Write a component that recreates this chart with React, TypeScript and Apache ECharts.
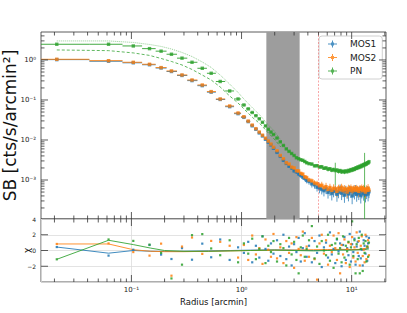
import React, { useEffect, useRef } from 'react';
import * as echarts from 'echarts';

// ---------- data ----------
const radius = [0.021, 0.062, 0.104, 0.146, 0.186, 0.231, 0.288, 0.355, 0.44, 0.53, 0.64, 0.78, 0.93,
  1.05, 1.15, 1.25, 1.35, 1.45, 1.55, 1.65, 1.75, 1.85, 1.95,
  2.1, 2.25, 2.4, 2.55, 2.7, 2.85, 3.0, 3.15, 3.3, 3.45, 3.6, 3.75, 3.9,
  4.1, 4.35, 4.6, 4.85, 5.1, 5.35, 5.6, 5.85, 6.1, 6.35, 6.6, 6.85, 7.1, 7.35, 7.6, 7.85, 8.1, 8.35, 8.6, 8.85,
  9.1, 9.35, 9.6, 9.85, 10.1, 10.35, 10.6, 10.85, 11.1, 11.35, 11.6, 11.85, 12.1, 12.35, 12.6, 12.85, 13.1, 13.35,
  13.6, 13.85, 14.1, 14.35];

const sbMOS1 = [1.02, 0.93, 0.85, 0.76, 0.63, 0.515, 0.41, 0.305, 0.228, 0.157, 0.103, 0.068, 0.0455,
  0.0368, 0.0288, 0.0226, 0.0185, 0.0150, 0.0126, 0.0104, 0.0088, 0.0075, 0.0062,
  0.0049, 0.0039, 0.0031, 0.0026, 0.0022, 0.0020, 0.0017, 0.0016, 0.00142, 0.00130, 0.00118, 0.00110, 0.00098,
  0.00092, 0.00080, 0.00076, 0.00066, 0.00063, 0.00058, 0.00054, 0.00060, 0.00049, 0.00055, 0.00046, 0.00052,
  0.00057, 0.00044, 0.00050, 0.00061, 0.00047, 0.00053, 0.00042, 0.00056, 0.00049, 0.00045, 0.00058, 0.00051,
  0.00040, 0.00054, 0.00048, 0.00059, 0.00044, 0.00052, 0.00047, 0.00055, 0.00041, 0.00050, 0.00056, 0.00046,
  0.00053, 0.00043, 0.00049, 0.00055, 0.00045, 0.00051];

const sbMOS2 = [1.04, 0.96, 0.876, 0.781, 0.645, 0.531, 0.422, 0.316, 0.237, 0.162, 0.106, 0.0708, 0.0473,
  0.0382, 0.0297, 0.0236, 0.0192, 0.0158, 0.0132, 0.0111, 0.0094, 0.0079, 0.0066,
  0.0054, 0.0041, 0.0034, 0.0027, 0.0025, 0.0021, 0.0020, 0.0017, 0.00168, 0.00146, 0.00140, 0.00120, 0.00115,
  0.00100, 0.00095, 0.00084, 0.00081, 0.00072, 0.00074, 0.00064, 0.00068, 0.00058, 0.00065, 0.00055, 0.00062,
  0.00060, 0.00052, 0.00063, 0.00057, 0.00066, 0.00054, 0.00060, 0.00058, 0.00050, 0.00062, 0.00056, 0.00064,
  0.00053, 0.00059, 0.00061, 0.00055, 0.00063, 0.00057, 0.00052, 0.00060, 0.00058, 0.00064, 0.00054, 0.00061,
  0.00057, 0.00050, 0.00059, 0.00055, 0.00062, 0.00056];

const sbPN = [2.47, 2.47, 2.24, 1.92, 1.66, 1.39, 1.11, 0.876, 0.62, 0.465, 0.29, 0.168, 0.106,
  0.075, 0.060, 0.0487, 0.0405, 0.0339, 0.0277, 0.0225, 0.0185, 0.0158, 0.0137,
  0.0112, 0.0090, 0.0073, 0.0060, 0.0052, 0.0046, 0.0041, 0.0036, 0.0034, 0.0032, 0.0031, 0.0029, 0.0027,
  0.00256, 0.00250, 0.00226, 0.00228, 0.00212, 0.00214, 0.00196, 0.00200, 0.00186, 0.00191, 0.00176, 0.00183,
  0.00172, 0.00178, 0.00165, 0.00172, 0.00160, 0.00166, 0.00159, 0.00168, 0.00162, 0.00174, 0.00169, 0.00182,
  0.00176, 0.00190, 0.00184, 0.00199, 0.00195, 0.00210, 0.00205, 0.00220, 0.00214, 0.00232, 0.00226, 0.00243,
  0.00238, 0.00255, 0.00250, 0.00270, 0.00268, 0.00285];

// relative 1-sigma errors
const errMOS1 = [0.02, 0.02, 0.02, 0.02, 0.02, 0.02, 0.02, 0.02, 0.02, 0.02, 0.02, 0.02, 0.02,
  0.03, 0.03, 0.035, 0.035, 0.04, 0.04, 0.045, 0.05, 0.05, 0.055,
  0.06, 0.07, 0.08, 0.08, 0.09, 0.1, 0.1, 0.11, 0.12, 0.13, 0.14, 0.15, 0.16,
  0.17, 0.19, 0.2, 0.22, 0.26, 0.25, 0.28, 0.26, 0.3, 0.27, 0.33, 0.29, 0.27, 0.35, 0.3, 0.27, 0.33, 0.3, 0.36, 0.28,
  0.31, 0.35, 0.27, 0.3, 0.38, 0.29, 0.32, 0.27, 0.35, 0.3, 0.33, 0.28, 0.37, 0.31, 0.27, 0.34, 0.3, 0.36, 0.32,
  0.29, 0.35, 0.31];
const errMOS2 = [0.02, 0.02, 0.02, 0.02, 0.02, 0.02, 0.02, 0.02, 0.02, 0.02, 0.02, 0.02, 0.02,
  0.025, 0.025, 0.03, 0.03, 0.03, 0.035, 0.035, 0.04, 0.04, 0.045,
  0.05, 0.05, 0.06, 0.06, 0.07, 0.07, 0.08, 0.08, 0.09, 0.1, 0.1, 0.11, 0.12,
  0.14, 0.15, 0.17, 0.18, 0.2, 0.22, 0.2, 0.25, 0.22, 0.24, 0.2, 0.26, 0.23, 0.28, 0.21, 0.25, 0.22, 0.27, 0.24,
  0.2, 0.28, 0.23, 0.26, 0.21, 0.27, 0.24, 0.22, 0.28, 0.2, 0.25, 0.29, 0.23, 0.26, 0.21, 0.27, 0.24, 0.22, 0.3,
  0.25, 0.23, 0.27, 0.24];
const errPN = [0.015, 0.015, 0.015, 0.015, 0.015, 0.015, 0.015, 0.015, 0.015, 0.015, 0.015, 0.015, 0.015,
  0.02, 0.02, 0.022, 0.024, 0.025, 0.027, 0.028, 0.03, 0.03, 0.032,
  0.04, 0.042, 0.045, 0.05, 0.05, 0.055, 0.06, 0.06, 0.065, 0.07, 0.07, 0.075, 0.08,
  0.08, 0.09, 0.08, 0.1, 0.09, 0.11, 0.09, 0.1, 0.12, 0.09, 0.11, 0.1, 0.57, 0.09, 0.12, 0.1, 0.11, 0.09, 0.12,
  0.1, 0.11, 0.09, 0.12, 0.1, 0.11, 0.09, 0.1, 0.12, 0.09, 0.11, 0.1, 0.12, 0.09, 0.11, 0.1, 0.12, 1.0, 0.1,
  0.11, 0.09, 0.1, 0.12];

// PN model envelope lines
const rModel = [0.021, 0.062, 0.104, 0.146, 0.186, 0.231, 0.288, 0.355, 0.44, 0.53, 0.64, 0.78, 0.93,
  1.05, 1.26, 1.48, 1.72, 1.98, 2.27];
const pnModelUpper = [2.99, 2.99, 2.74, 2.44, 2.18, 1.88, 1.54, 1.22, 0.89, 0.65, 0.42, 0.25, 0.154,
  0.106, 0.063, 0.041, 0.025, 0.0168, 0.0100];
const pnModelLower = [1.78, 1.71, 1.50, 1.30, 1.09, 0.917, 0.75, 0.579, 0.42, 0.316, 0.211, 0.126, 0.084,
  0.060, 0.0365, 0.025, 0.0158, 0.0106, 0.0067];

// residuals (chi)
const chiMOS1 = [0.44, -0.65, 0.1, 0.7, -0.52, -1.08, 0.3, -1.17, 0.87, -0.86, 1.4, -1.2, 0.4,
  -0.3, 1.1, -1.5, 0.6, -0.9, 1.8, 0.2, -1.3, 0.9, -0.4,
  1.3, -0.7, 2.0, -1.1, 0.5, -1.9, 0.8, -0.2, 1.6, -1.4, 0.3, 2.2, -0.8,
  0.6, -1.5, 1.2, -0.3, 1.9, -2.1, 0.4, 1.0, -0.9, 2.3, -0.5, 0.2, -1.6, 1.4, -0.1, 0.9, -2.0, 0.7, 1.7, -1.2,
  0.3, -0.6, 2.1, -1.4, 0.8, -0.2, 1.5, -1.8, 0.5, 1.1, -0.7, 2.4, -1.0, 0.1, -1.9, 1.3, 0.6, -0.4, 1.8, -1.3,
  0.9, 1.6];
const chiMOS2 = [0.83, 0.9, -0.2, -0.65, 0.87, -3.2, 0.5, 1.65, -0.43, 1.22, 1.1, 0.6, -0.9,
  0.7, -1.2, 1.9, -0.5, 0.3, -1.7, 1.4, 0.1, -0.8, 2.1,
  -1.0, 0.4, -1.6, 1.2, -0.3, 0.9, -2.2, 1.7, 0.2, -0.6, 2.4, -1.3, 0.5,
  -0.8, 1.6, -1.1, -3.7, 0.9, 2.0, -0.4, 1.3, -1.8, 0.6, -0.2, 1.9, 0.3, -1.2, 2.2, -2.9, 0.7, -0.5, 1.4, -1.6,
  0.2, 1.0, -2.1, 0.8, 1.7, -0.9, 0.4, -1.4, 2.3, -0.3, 1.2, -1.9, 0.6, 1.8, -0.7, 0.1, -1.5, 2.0, -1.1, 0.5,
  1.3, -0.6];
const chiPN = [-1.12, 1.4, 1.22, 0.74, -0.3, -3.55, -1.8, 1.95, 2.08, 0.26, -0.6, 1.3, -1.5,
  0.9, -0.4, 1.5, -1.1, 0.2, 1.8, -1.6, 0.6, -0.2, 1.2,
  -1.4, 0.8, 0.3, -1.9, 1.6, -0.5, 1.1, -1.2, -2.9, 0.4, 1.9, -0.8, 0.2,
  1.3, 3.1, -1.0, 0.5, -1.7, 1.2, 0.0, -0.6, 2.0, -1.3, 0.7, -2.2, 0.9, 1.5, -0.4, 0.3, -1.5, 1.8, -0.9, 0.6,
  -0.1, 1.1, -1.8, 0.4, 3.7, -0.7, 1.3, -2.9, 0.8, -1.1, 1.6, -2.9, 0.2, 2.0, -2.6, 0.9, -0.3, 1.2, -1.4, 0.5,
  -0.8, 1.0];

// smoothed residual trends
const rSmooth = [0.021, 0.062, 0.104, 0.15, 0.2, 0.3, 0.5, 0.8, 1.2, 2, 3, 4.5, 6, 8, 10, 12, 13.5, 14.35];
const chiSmoothMOS1 = [0.44, -0.34, 0.0, -0.1, -0.12, -0.1, -0.05, 0.0, 0.05, 0.08, 0.05, 0.0, 0.05, 0.1, 0.1, 0.12, 0.2, 0.35];
const chiSmoothMOS2 = [0.83, 0.83, 0.1, -0.1, -0.15, -0.15, -0.1, -0.05, 0.0, 0.05, 0.05, 0.1, 0.12, 0.15, 0.12, 0.15, 0.3, 0.45];
const chiSmoothPN = [-1.12, 1.3, 0.75, 0.3, 0.0, -0.1, -0.1, -0.05, 0.0, 0.05, 0.0, -0.05, 0.0, 0.05, 0.05, 0.1, 0.15, 0.2];

// excluded region and marker line
const bandRange = [1.68, 3.37];
const markRadius = 5;

// axis ticks
const xMajorTicks = [0.1, 1, 10];
const xMinorTicks = [0.02, 0.03, 0.04, 0.05, 0.06, 0.07, 0.08, 0.09, 0.2, 0.3, 0.4, 0.5, 0.6, 0.7, 0.8, 0.9,
  2, 3, 4, 5, 6, 7, 8, 9, 20];
const yMajorTicks = [0.001, 0.01, 0.1, 1];
const yMinorTicks = [2e-4, 3e-4, 4e-4, 5e-4, 6e-4, 7e-4, 8e-4, 9e-4, 2e-3, 3e-3, 4e-3, 5e-3, 6e-3, 7e-3, 8e-3, 9e-3,
  0.02, 0.03, 0.04, 0.05, 0.06, 0.07, 0.08, 0.09, 0.2, 0.3, 0.4, 0.5, 0.6, 0.7, 0.8, 0.9, 2, 3, 4];
const chiTicks = [-2, 0, 2];

const X_MIN = 0.0151, X_MAX = 20.5, Y_MIN = 1.06e-4, Y_MAX = 5;
const C1 = '#1f77b4', C2 = '#ff7f0e', C3 = '#2ca02c';
const FONT = 'DejaVu Sans';

const SUP: Record<string, string> = { '-': '⁻', '0': '⁰', '1': '¹', '2': '²', '3': '³', '4': '⁴', '5': '⁵' };
function logLabel(v: number): string {
  const l = Math.log10(v);
  const r = Math.round(l);
  if (Math.abs(l - r) > 1e-5) return '';
  return '10' + String(r).split('').map((c) => SUP[c]).join('');
}

function edges() {
  const n = radius.length;
  const L: number[] = [], R: number[] = [];
  for (let i = 0; i < n; i++) {
    L.push(i === 0 ? X_MIN : (radius[i - 1] + radius[i]) / 2);
    R.push(i === n - 1 ? radius[i] + (radius[i] - radius[i - 1]) / 2 : (radius[i] + radius[i + 1]) / 2);
  }
  return { L, R };
}

function errData(sb: number[], err: number[]) {
  const { L, R } = edges();
  return radius.map((r, i) => [r, sb[i], Math.max(sb[i] * (1 - err[i]), Y_MIN * 1.0001), Math.min(sb[i] * (1 + err[i]), Y_MAX), L[i], R[i]]);
}

function errSeries(name: string, sb: number[], err: number[], color: string) {
  return {
    type: 'custom', name, xAxisIndex: 0, yAxisIndex: 0, silent: true, clip: true, z: 3,
    data: errData(sb, err),
    renderItem: (params: any, api: any) => {
      const r = api.value(0), s = api.value(1), lo = api.value(2), hi = api.value(3), xl = api.value(4), xr = api.value(5);
      const a = api.coord([xl, s]), b = api.coord([xr, s]), c = api.coord([r, hi]), d = api.coord([r, lo]);
      return {
        type: 'group', children: [
          { type: 'line', shape: { x1: a[0], y1: a[1], x2: b[0], y2: b[1] }, style: { stroke: color, lineWidth: 1, opacity: 0.9 } },
          { type: 'line', shape: { x1: c[0], y1: c[1], x2: d[0], y2: d[1] }, style: { stroke: color, lineWidth: 1, opacity: 0.75 } },
        ],
      };
    },
  };
}

function markerSeries(name: string, sb: number[], color: string) {
  return {
    type: 'scatter', name, xAxisIndex: 0, yAxisIndex: 0, silent: true, z: 3,
    symbol: 'rect', symbolSize: 3.4,
    itemStyle: { color },
    data: radius.map((r, i) => [r, sb[i]]),
  };
}

function tickSeries(grid: number, axis: 'x' | 'y', major: number[], minor: number[], refVal: number) {
  const data: number[][] = [];
  major.forEach((v) => data.push(axis === 'x' ? [v, refVal, 7] : [refVal, v, 7]));
  minor.forEach((v) => data.push(axis === 'x' ? [v, refVal, 3.5] : [refVal, v, 3.5]));
  return {
    type: 'custom', xAxisIndex: grid, yAxisIndex: grid, silent: true, z: 10, clip: false,
    data,
    renderItem: (params: any, api: any) => {
      const cs = params.coordSys;
      const len = api.value(2);
      const st = { stroke: '#333', lineWidth: 0.8 };
      if (axis === 'x') {
        const px = api.coord([api.value(0), refVal])[0];
        return {
          type: 'group', children: [
            { type: 'line', shape: { x1: px, y1: cs.y + cs.height, x2: px, y2: cs.y + cs.height - len }, style: st },
            { type: 'line', shape: { x1: px, y1: cs.y, x2: px, y2: cs.y + len }, style: st },
          ],
        };
      }
      const py = api.coord([refVal, api.value(1)])[1];
      return {
        type: 'group', children: [
          { type: 'line', shape: { x1: cs.x, y1: py, x2: cs.x + len, y2: py }, style: st },
          { type: 'line', shape: { x1: cs.x + cs.width, y1: py, x2: cs.x + cs.width - len, y2: py }, style: st },
        ],
      };
    },
  };
}

const ICON = 'path://M0,3h9v1h-9z M4,0h1v7h-1z M3,2h3v3h-3z M17,3.5h0.01v0.01h-0.01z';

function buildOption(): any {
  return {
    animation: false,
    backgroundColor: '#ffffff',
    textStyle: { fontFamily: FONT },
    grid: [
      { left: 41, top: 32, width: 345, height: 187, show: true, borderColor: '#333', borderWidth: 0.8, backgroundColor: 'rgba(0,0,0,0)' },
      { left: 41, top: 219, width: 345, height: 63, show: true, borderColor: '#333', borderWidth: 0.8, backgroundColor: 'rgba(0,0,0,0)' },
    ],
    xAxis: [
      { type: 'log', gridIndex: 0, min: X_MIN, max: X_MAX, axisLine: { show: false }, axisTick: { show: false }, axisLabel: { show: false }, splitLine: { show: false } },
      {
        type: 'log', gridIndex: 1, min: X_MIN, max: X_MAX, axisLine: { show: false }, axisTick: { show: false },
        axisLabel: { formatter: logLabel, fontSize: 7, color: '#222', margin: 4, fontFamily: FONT },
        splitLine: { show: true, lineStyle: { color: '#dcdcdc', width: 0.8 } },
      },
    ],
    yAxis: [
      {
        type: 'log', gridIndex: 0, min: Y_MIN, max: Y_MAX, axisLine: { show: false }, axisTick: { show: false },
        axisLabel: { formatter: logLabel, fontSize: 7, color: '#222', margin: 5, fontFamily: FONT },
        splitLine: { show: false },
      },
      {
        type: 'value', gridIndex: 1, min: -4, max: 4, interval: 2, axisLine: { show: false }, axisTick: { show: false },
        axisLabel: { formatter: (v: number) => (v === -4 ? '' : String(v).replace('-', '−')), fontSize: 6, color: '#222', margin: 5, fontFamily: FONT },
        splitLine: { show: true, lineStyle: { color: '#dcdcdc', width: 0.8 } },
      },
    ],
    legend: {
      orient: 'vertical', left: 319, top: 36, itemWidth: 17, itemHeight: 7, itemGap: 1.5,
      padding: [2, 6, 2, 9], backgroundColor: 'rgba(255,255,255,0.85)', borderColor: '#d0d0d0', borderWidth: 1, borderRadius: 3,
      textStyle: { fontSize: 9, fontFamily: FONT, color: '#222', lineHeight: 12 },
      itemStyle: { borderWidth: 0 },
      data: [
        { name: 'MOS1', icon: ICON },
        { name: 'MOS2', icon: ICON },
        { name: 'PN', icon: ICON },
      ],
    },
    graphic: [
      { type: 'text', x: 10, y: 125.5, rotation: Math.PI / 2, style: { text: 'SB [cts/s/arcmin²]', fontSize: 17, fontFamily: FONT, fill: '#111', align: 'center', verticalAlign: 'middle' } },
      { type: 'text', x: 27, y: 250.5, rotation: Math.PI / 2, style: { text: 'χ', fontSize: 9, fontFamily: FONT, fill: '#111', align: 'center', verticalAlign: 'middle' } },
      { type: 'text', x: 213.5, y: 302, style: { text: 'Radius [arcmin]', fontSize: 8.5, fontFamily: FONT, fill: '#111', align: 'center', verticalAlign: 'middle' } },
    ],
    series: [
      {
        type: 'line', name: 'band', xAxisIndex: 0, yAxisIndex: 0, silent: true, showSymbol: false,
        data: [[1, 1]], lineStyle: { opacity: 0 },
        markArea: { silent: true, label: { show: false }, itemStyle: { color: '#9d9d9d' }, data: [[{ xAxis: bandRange[0] }, { xAxis: bandRange[1] }]] },
        markLine: { silent: true, symbol: ['none', 'none'], label: { show: false }, lineStyle: { color: 'rgba(240,60,60,0.45)', type: [2, 1.5], width: 1 }, data: [{ xAxis: markRadius }] },
      },
      {
        type: 'line', name: 'PN model hi', xAxisIndex: 0, yAxisIndex: 0, silent: true, showSymbol: false, z: 2,
        data: rModel.map((r, i) => [r, pnModelUpper[i]]), lineStyle: { color: C3, width: 1, type: 'dotted', opacity: 0.5 },
      },
      {
        type: 'line', name: 'PN model lo', xAxisIndex: 0, yAxisIndex: 0, silent: true, showSymbol: false, z: 2,
        data: rModel.map((r, i) => [r, pnModelLower[i]]), lineStyle: { color: C3, width: 1, type: [3, 2], opacity: 0.75 },
      },
      errSeries('MOS1 err', sbMOS1, errMOS1, C1),
      markerSeries('MOS1', sbMOS1, C1),
      errSeries('MOS2 err', sbMOS2, errMOS2, C2),
      markerSeries('MOS2', sbMOS2, C2),
      errSeries('PN err', sbPN, errPN, C3),
      markerSeries('PN', sbPN, C3),
      // residual panel
      ...[[chiSmoothMOS1, C1], [chiSmoothMOS2, C2], [chiSmoothPN, C3]].map(([arr, color]: any) => ({
        type: 'line', xAxisIndex: 1, yAxisIndex: 1, silent: true, showSymbol: false, z: 3,
        data: rSmooth.map((r, i) => [r, arr[i]]), lineStyle: { color, width: 1, opacity: 0.85 },
      })),
      ...[[chiMOS1, C1], [chiMOS2, C2], [chiPN, C3]].map(([arr, color]: any) => ({
        type: 'scatter', xAxisIndex: 1, yAxisIndex: 1, silent: true, z: 3, symbol: 'rect', symbolSize: 2.2,
        itemStyle: { color, opacity: 0.85 },
        data: radius.map((r, i) => [r, arr[i]]),
      })),
      tickSeries(0, 'x', xMajorTicks, xMinorTicks, 1),
      tickSeries(0, 'y', yMajorTicks, yMinorTicks, 1),
      tickSeries(1, 'x', xMajorTicks, xMinorTicks, 0),
      tickSeries(1, 'y', chiTicks, [], 1),
    ],
  };
}

export default function App() {
  const ref = useRef<HTMLDivElement>(null);
  useEffect(() => {
    if (!ref.current) return;
    const chart = echarts.init(ref.current, null, { renderer: 'svg' });
    chart.setOption(buildOption());
    return () => chart.dispose();
  }, []);
  return <div ref={ref} style={{ position: 'fixed', left: 0, top: 0, width: 407, height: 313, background: '#fff' }} />;
}
